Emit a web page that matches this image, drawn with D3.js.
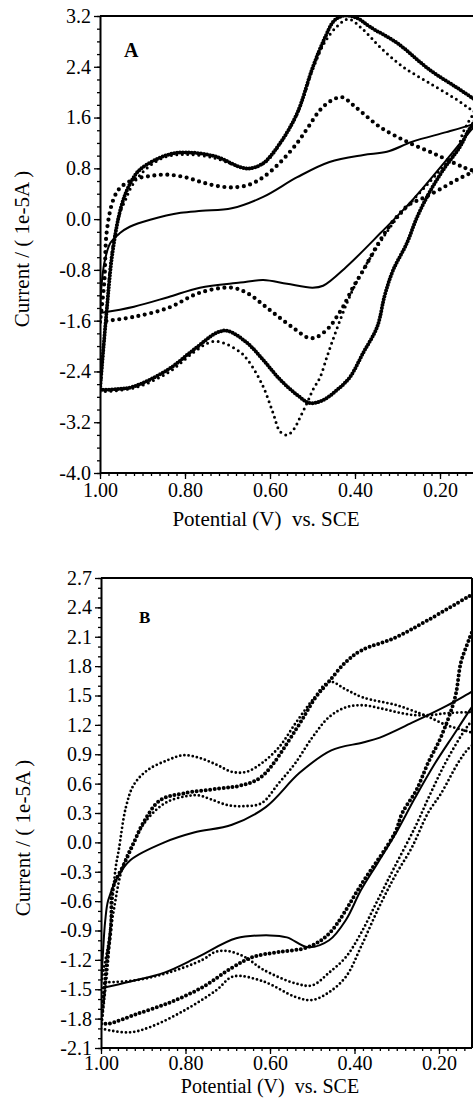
<!DOCTYPE html>
<html>
<head>
<meta charset="utf-8">
<script src="https://cdn.jsdelivr.net/npm/d3@7"></script>
<style>
  body { margin: 0; background: #fff; }
  svg text { font-family: "Liberation Serif", "DejaVu Serif", serif; fill: #000; }
</style>
</head>
<body>
<div id="wrapper"></div>
<script>
// ---- tick values ----
const xTicks = [1.0, 0.8, 0.6, 0.4, 0.2];
const aYTicks = [-4.0, -3.2, -2.4, -1.6, -0.8, 0.0, 0.8, 1.6, 2.4, 3.2];
const bYTicks = [-2.1, -1.8, -1.5, -1.2, -0.9, -0.6, -0.3, 0.0, 0.3, 0.6, 0.9, 1.2, 1.5, 1.8, 2.1, 2.4, 2.7];

// ---- panel A curves, [potential V, current 1e-5A] ----
const aSolid = [
  [1.0,-1.48],[0.92,-1.38],[0.84,-1.23],[0.765,-1.08],[0.67,-1.0],[0.616,-0.96],[0.56,-1.02],[0.50,-1.08],
  [0.475,-1.05],[0.42,-0.75],[0.34,-0.22],[0.265,0.30],[0.185,0.93],[0.13,1.38],[0.112,1.52],
  [0.129,1.48],[0.185,1.37],[0.265,1.22],[0.325,1.06],[0.38,1.01],[0.46,0.90],[0.536,0.66],[0.616,0.35],
  [0.69,0.17],[0.76,0.13],[0.81,0.10],[0.882,-0.01],[0.93,-0.12],[0.953,-0.22],[0.976,-0.38],[0.99,-0.7],
  [0.997,-1.1],[1.0,-1.48]
];
const aTri = [
  [1.0,-1.62],[0.98,-1.60],[0.92,-1.54],[0.84,-1.40],[0.765,-1.16],[0.69,-1.08],[0.65,-1.18],[0.616,-1.35],
  [0.58,-1.54],[0.54,-1.74],[0.51,-1.87],[0.49,-1.86],[0.46,-1.70],[0.445,-1.56],[0.428,-1.38],[0.405,-1.08],
  [0.38,-0.80],[0.35,-0.44],[0.32,-0.12],[0.29,0.12],[0.27,0.24],[0.24,0.33],[0.20,0.47],[0.16,0.62],
  [0.125,0.73],[0.115,0.74],
  [0.146,0.82],[0.207,1.01],[0.278,1.22],[0.341,1.45],[0.38,1.66],[0.405,1.80],[0.43,1.92],[0.455,1.87],
  [0.482,1.72],[0.51,1.45],[0.536,1.2],[0.575,0.9],[0.616,0.66],[0.65,0.54],[0.69,0.50],[0.73,0.53],
  [0.765,0.59],[0.80,0.66],[0.842,0.70],[0.882,0.68],[0.922,0.62],[0.953,0.49],[0.969,0.30],[0.984,-0.19],
  [0.99,-1.0],[1.0,-1.62]
];
const aDense = [
  [1.0,-2.69],[0.96,-2.68],[0.922,-2.64],[0.842,-2.38],[0.78,-2.06],[0.725,-1.79],[0.70,-1.76],[0.654,-1.95],
  [0.616,-2.22],[0.576,-2.53],[0.536,-2.77],[0.506,-2.9],[0.475,-2.85],[0.442,-2.69],[0.412,-2.49],
  [0.381,-2.11],[0.348,-1.70],[0.33,-1.2],[0.31,-0.8],[0.278,-0.38],[0.254,0.03],[0.224,0.43],[0.193,0.77],
  [0.153,1.14],[0.136,1.36],[0.10,1.80],
  [0.122,1.9],[0.16,2.07],[0.224,2.35],[0.30,2.77],[0.365,3.03],[0.39,3.15],[0.41,3.2],[0.43,3.2],
  [0.45,3.12],[0.47,2.87],[0.499,2.4],[0.536,1.67],[0.576,1.2],[0.616,0.88],[0.647,0.80],[0.671,0.82],
  [0.725,0.98],[0.795,1.05],[0.842,1.01],[0.906,0.78],[0.93,0.55],[0.95,0.2],[0.97,-0.5],[0.985,-1.5],
  [1.0,-2.69]
];
const aDots = [
  [1.0,-2.72],[0.92,-2.66],[0.84,-2.42],[0.78,-2.1],[0.745,-1.95],[0.72,-1.93],[0.671,-2.09],[0.647,-2.27],
  [0.616,-2.64],[0.593,-3.05],[0.576,-3.35],[0.56,-3.4],[0.545,-3.32],[0.529,-3.12],[0.513,-2.9],
  [0.499,-2.69],[0.482,-2.49],[0.466,-2.17],[0.452,-1.9],[0.435,-1.59],[0.419,-1.32],[0.405,-1.11],
  [0.381,-0.8],[0.348,-0.44],[0.31,-0.06],[0.27,0.25],[0.224,0.59],[0.193,0.82],[0.16,1.09],[0.146,1.36],
  [0.134,1.52],[0.12,1.71],
  [0.13,1.74],[0.16,1.88],[0.224,2.14],[0.287,2.4],[0.341,2.71],[0.38,2.98],[0.415,3.15],[0.44,3.05],
  [0.47,2.8],[0.50,2.35],[0.535,1.67],[0.575,1.2],[0.61,0.9],[0.645,0.80],[0.67,0.82],[0.73,0.96],
  [0.80,1.02],[0.85,0.97],[0.89,0.8],[0.915,0.62],[0.93,0.46],[0.94,0.30],[0.953,0.1],[0.972,-0.52],
  [0.985,-1.5],[1.0,-2.72]
];

// ---- panel B curves ----
const bSolid = [
  [1.0,-1.49],[0.93,-1.42],[0.85,-1.33],[0.77,-1.17],[0.68,-0.98],[0.60,-0.95],[0.56,-0.97],[0.51,-1.07],
  [0.46,-1.0],[0.42,-0.79],[0.385,-0.49],[0.345,-0.21],[0.304,0.08],[0.256,0.46],[0.209,0.81],[0.162,1.12],
  [0.132,1.32],[0.085,1.63],
  [0.13,1.52],[0.18,1.40],[0.26,1.23],[0.34,1.07],[0.38,1.02],[0.455,0.94],[0.53,0.71],[0.61,0.36],
  [0.69,0.18],[0.78,0.10],[0.85,0.0],[0.93,-0.18],[0.96,-0.35],[0.983,-0.59],[0.99,-0.8],[0.995,-1.1],
  [1.0,-1.49]
];
const bBig = [
  [1.0,-1.85],[0.98,-1.85],[0.92,-1.76],[0.84,-1.64],[0.76,-1.48],[0.69,-1.28],[0.64,-1.17],[0.58,-1.12],
  [0.51,-1.07],[0.46,-0.93],[0.381,-0.41],[0.304,0.10],[0.287,0.30],[0.254,0.53],[0.226,0.81],[0.195,1.08],
  [0.162,1.48],[0.148,1.84],[0.13,2.06],[0.083,2.62],
  [0.13,2.51],[0.226,2.27],[0.304,2.09],[0.384,1.96],[0.421,1.84],[0.461,1.64],[0.492,1.48],[0.539,1.15],
  [0.62,0.67],[0.67,0.58],[0.72,0.55],[0.805,0.50],[0.86,0.43],[0.90,0.2],[0.922,0.0],[0.944,-0.21],
  [0.972,-0.47],[0.976,-0.84],[0.986,-1.23],[1.0,-1.85]
];
const bDots1 = [
  [1.0,-1.9],[0.98,-1.92],[0.93,-1.94],[0.88,-1.88],[0.80,-1.71],[0.727,-1.51],[0.687,-1.37],[0.616,-1.42],
  [0.539,-1.58],[0.50,-1.61],[0.46,-1.53],[0.42,-1.37],[0.385,-1.07],[0.345,-0.69],[0.305,-0.35],
  [0.264,-0.05],[0.226,0.30],[0.195,0.50],[0.155,0.81],[0.132,0.95],[0.10,1.08],
  [0.13,1.13],[0.146,1.15],[0.184,1.20],[0.224,1.28],[0.247,1.32],[0.30,1.40],[0.38,1.48],[0.42,1.56],
  [0.459,1.64],[0.50,1.45],[0.539,1.22],[0.579,0.97],[0.619,0.81],[0.656,0.72],[0.69,0.72],[0.725,0.79],
  [0.765,0.86],[0.805,0.89],[0.842,0.84],[0.889,0.74],[0.922,0.59],[0.941,0.36],[0.958,-0.08],
  [0.965,-0.25],[0.975,-0.7],[0.985,-1.3],[1.0,-1.9]
];
const bDots2 = [
  [1.0,-1.43],[0.92,-1.41],[0.84,-1.33],[0.76,-1.2],[0.73,-1.12],[0.70,-1.11],[0.66,-1.17],[0.616,-1.3],
  [0.54,-1.44],[0.50,-1.46],[0.46,-1.33],[0.42,-1.17],[0.385,-0.93],[0.345,-0.59],[0.305,-0.25],
  [0.256,0.16],[0.22,0.5],[0.18,0.85],[0.13,1.2],[0.10,1.34],
  [0.13,1.33],[0.18,1.32],[0.22,1.30],[0.26,1.30],[0.30,1.33],[0.34,1.37],[0.38,1.40],[0.42,1.38],
  [0.46,1.28],[0.50,1.07],[0.54,0.81],[0.58,0.6],[0.62,0.40],[0.66,0.37],[0.70,0.38],[0.74,0.44],
  [0.77,0.48],[0.80,0.47],[0.84,0.42],[0.87,0.33],[0.90,0.18],[0.92,0.02],[0.94,-0.15],[0.955,-0.35],
  [0.97,-0.7],[0.985,-1.1],[1.0,-1.43]
];

const width = 473;
const height = 1098;
const serif = '"Liberation Serif", "DejaVu Serif", serif';

const svg = d3.select("#wrapper")
  .append("svg")
  .attr("width", width)
  .attr("height", height)

function drawPanel(p) {
  const g = svg.append("g")

  // x scale anchored on the 1.00 and 0.20 ticks
  const xScale = d3.scaleLinear()
    .domain([1.0, 0.2])
    .range([p.left, p.x02])

  const yScale = d3.scaleLinear()
    .domain([p.yTicks[0], p.yTicks[p.yTicks.length - 1]])
    .range([p.bottom, p.top])

  const clipId = "clip" + p.letter
  svg.append("clipPath").attr("id", clipId)
    .append("rect")
    .attr("x", p.left).attr("y", p.top - 1)
    .attr("width", p.right - p.left).attr("height", p.bottom - p.top + 1)

  const lineGen = d3.line()
    .x(d => xScale(d[0]))
    .y(d => yScale(d[1]))
    .curve(d3.curveCatmullRom.alpha(0.5))

  const curvesGroup = g.append("g").attr("clip-path", `url(#${clipId})`)
  p.curves.forEach(c => {
    curvesGroup.append("path")
      .attr("d", lineGen(c.data))
      .attr("fill", "none")
      .attr("stroke", "#000")
      .attr("stroke-width", c.width)
      .attr("stroke-linecap", "round")
      .attr("stroke-linejoin", "round")
      .attr("stroke-dasharray", c.dash || null)
  })

  // minor ticks
  const xMinor = d3.range(0, 46).map(i => +(1.0 - i * 0.02).toFixed(2)).filter(v => xScale(v) <= p.right)
  const yMin = p.yTicks[0], yMax = p.yTicks[p.yTicks.length - 1]
  const nMinor = Math.round((yMax - yMin) / p.yMinor)
  const yMinor = d3.range(0, nMinor + 1).map(i => +(yMin + i * p.yMinor).toFixed(2))

  const xAxisMinor = g.append("g")
    .attr("transform", `translate(0,${p.bottom})`)
    .call(d3.axisBottom(xScale).tickValues(xMinor).tickSize(3).tickFormat(""))
  xAxisMinor.select(".domain").remove()

  const xAxis = g.append("g")
    .attr("transform", `translate(0,${p.bottom})`)
    .call(d3.axisBottom(xScale).tickValues(xTicks).tickSize(6).tickSizeOuter(0)
      .tickPadding(p.xPad).tickFormat(d => d.toFixed(2)))
  xAxis.select(".domain").attr("d", `M${p.left},0H${p.right}`)

  const yAxisMinor = g.append("g")
    .attr("transform", `translate(${p.left},0)`)
    .call(d3.axisLeft(yScale).tickValues(yMinor).tickSize(3).tickFormat(""))
  yAxisMinor.select(".domain").remove()

  const yAxis = g.append("g")
    .attr("transform", `translate(${p.left},0)`)
    .call(d3.axisLeft(yScale).tickValues(p.yTicks).tickSize(6).tickSizeOuter(0)
      .tickPadding(3).tickFormat(d => d.toFixed(1)))

  g.selectAll(".domain").attr("stroke-width", 2)
  g.selectAll(".tick line").attr("stroke-width", 1.3)
  g.selectAll(".tick text")
    .style("font-family", serif)
    .style("font-size", "20px")
    .attr("fill", "#000")

  // frame lines
  g.append("line")
    .attr("x1", p.left).attr("x2", p.right)
    .attr("y1", p.top).attr("y2", p.top)
    .attr("stroke", "#000").attr("stroke-width", 2)
  if (p.rightBorder) {
    g.append("line")
      .attr("x1", p.right).attr("x2", p.right)
      .attr("y1", p.top).attr("y2", p.bottom)
      .attr("stroke", "#000").attr("stroke-width", 2)
  }

  g.append("text")
    .attr("x", p.letterX).attr("y", p.letterY)
    .style("font-family", serif)
    .style("font-size", p.letterSize + "px")
    .style("font-weight", "bold")
    .text(p.letter)

  g.append("text")
    .attr("x", p.titleX).attr("y", p.titleY)
    .attr("text-anchor", "middle")
    .style("font-family", serif)
    .style("font-size", p.titleSize + "px")
    .style("white-space", "pre")
    .text("Potential (V)  vs. SCE")

  g.append("text")
    .attr("transform", `translate(${p.labelX},${p.labelY}) rotate(-90)`)
    .attr("text-anchor", "middle")
    .style("font-family", serif)
    .style("font-size", "21px")
    .style("white-space", "pre")
    .text("Current / ( 1e-5A )")
}

drawPanel({
  letter: "A", letterX: 124, letterY: 57, letterSize: 20,
  left: 100, x02: 440, right: 476, top: 16, bottom: 473,
  yTicks: aYTicks, yMinor: 0.2, rightBorder: false, xPad: 4,
  titleX: 266, titleY: 526, titleSize: 21, labelX: 29, labelY: 249,
  curves: [
    { data: aSolid, width: 2 },
    { data: aTri, width: 4.2, dash: "0 6.5" },
    { data: aDense, width: 4, dash: "0 3" },
    { data: aDots, width: 3, dash: "0 5.5" }
  ]
})

drawPanel({
  letter: "B", letterX: 139, letterY: 623, letterSize: 17,
  left: 101, x02: 439, right: 472, top: 578, bottom: 1048,
  yTicks: bYTicks, yMinor: 0.1, rightBorder: true, xPad: 2,
  titleX: 270, titleY: 1093, titleSize: 20, labelX: 30, labelY: 838,
  curves: [
    { data: bSolid, width: 2 },
    { data: bBig, width: 4, dash: "0 4.5" },
    { data: bDots1, width: 2.8, dash: "0 4.2" },
    { data: bDots2, width: 2.8, dash: "0 4.2" }
  ]
})
</script>
</body>
</html>
